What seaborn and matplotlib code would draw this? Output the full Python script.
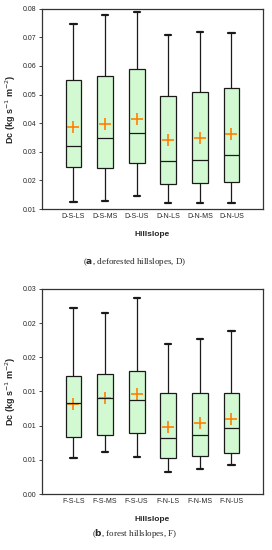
import matplotlib
matplotlib.use("Agg")
import matplotlib.pyplot as plt
from matplotlib.ticker import FormatStrFormatter, MultipleLocator
import pandas as pd
import seaborn as sns

# five-number summaries: low whisker, q1, median, q3, high whisker
D_SITES = ["D-S-LS", "D-S-MS", "D-S-US", "D-N-LS", "D-N-MS", "D-N-US"]
D_LOW = [0.0124, 0.0129, 0.0144, 0.0120, 0.0120, 0.0120]
D_Q1 = [0.0246, 0.0243, 0.0260, 0.0189, 0.0191, 0.0196]
D_MED = [0.0319, 0.0349, 0.0365, 0.0267, 0.0271, 0.0290]
D_Q3 = [0.0552, 0.0566, 0.0589, 0.0495, 0.0508, 0.0523]
D_HIGH = [0.0748, 0.0780, 0.0789, 0.0708, 0.0718, 0.0715]
D_MEAN = [0.0388, 0.0397, 0.0413, 0.0341, 0.0349, 0.0361]

F_SITES = ["F-S-LS", "F-S-MS", "F-S-US", "F-N-LS", "F-N-MS", "F-N-US"]
F_LOW = [0.0052, 0.0062, 0.0054, 0.0032, 0.0037, 0.0042]
F_Q1 = [0.0084, 0.0086, 0.0089, 0.0052, 0.0056, 0.0060]
F_MED = [0.0133, 0.0140, 0.0137, 0.0082, 0.0087, 0.0097]
F_Q3 = [0.0173, 0.0176, 0.0180, 0.0147, 0.0147, 0.0147]
F_HIGH = [0.0272, 0.0264, 0.0287, 0.0220, 0.0227, 0.0238]
F_MEAN = [0.0132, 0.0141, 0.0146, 0.0098, 0.0104, 0.0110]


def to_long(sites, *cols):
    rows = []
    for i, s in enumerate(sites):
        for c in cols:
            rows.append({"site": s, "dc": c[i]})
    return pd.DataFrame(rows)


sns.set_style("ticks")
plt.rcParams["font.family"] = ["Liberation Sans", "DejaVu Sans"]

fig = plt.figure(figsize=(2.72, 5.5), dpi=100)
ax_a = fig.add_axes([0.154, 0.620, 0.813, 0.364])
ax_b = fig.add_axes([0.154, 0.1018, 0.813, 0.373])

panels = [
    (ax_a, D_SITES, (D_LOW, D_Q1, D_MED, D_Q3, D_HIGH), D_MEAN, (0.01, 0.08), 0.01),
    (ax_b, F_SITES, (F_LOW, F_Q1, F_MED, F_Q3, F_HIGH), F_MEAN, (0.0, 0.03), 0.005),
]

for ax, sites, summ, means, ylim, step in panels:
    df = to_long(sites, *summ)
    sns.boxplot(
        data=df, x="site", y="dc", ax=ax, whis=(0, 100), width=0.5,
        color="#ccffcc", linecolor="#1a1a1a", linewidth=0.9,
        capwidths=0.2, capprops=dict(linewidth=1.6),
    )
    sns.pointplot(
        x=sites, y=means, ax=ax, color="#ff8000", markers="+",
        linestyles="none", errorbar=None, markersize=8, markeredgewidth=1.2,
    )
    ax.set_xlim(-1, 6)
    ax.set_ylim(*ylim)
    ax.yaxis.set_major_locator(MultipleLocator(step))
    ax.yaxis.set_major_formatter(FormatStrFormatter("%.2f"))
    ax.tick_params(axis="y", labelsize=5, length=2, width=0.6, pad=2)
    ax.tick_params(axis="x", labelsize=5, length=0, pad=3)
    ax.set_xlabel("Hillslope", fontsize=6, fontweight="bold", labelpad=8)
    ax.set_ylabel("Dc (kg s$^{-1}$ m$^{-2}$)", fontsize=6.5, fontweight="bold", labelpad=3)
    for sp in ax.spines.values():
        sp.set_visible(True)
        sp.set_linewidth(0.9)
        sp.set_color("#333333")

fig.text(0.496, 1 - 262 / 550, r"($\mathbf{a}$, deforested hillslopes, D)",
         ha="center", va="center", fontsize=6.5, family="Liberation Serif")
fig.text(0.496, 1 - 534 / 550, r"($\mathbf{b}$, forest hillslopes, F)",
         ha="center", va="center", fontsize=6.5, family="Liberation Serif")

fig.savefig("out.png", dpi=100)
